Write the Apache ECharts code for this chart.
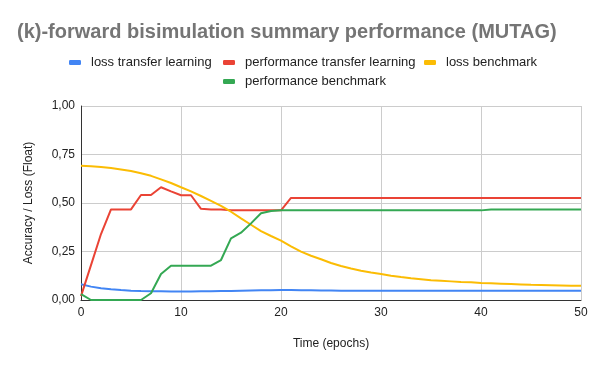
<!DOCTYPE html>
<html>
<head>
<meta charset="utf-8">
<script src="https://cdn.jsdelivr.net/npm/echarts@6/dist/echarts.min.js"></script>
<style>
  html, body { margin: 0; padding: 0; background: #fff; }
  #chart { width: 600px; height: 371px; }
</style>
</head>
<body>
<div id="chart"></div>
<script>
// epochs 0..50
const epochs = [0,1,2,3,4,5,6,7,8,9,10,11,12,13,14,15,16,17,18,19,20,21,22,23,24,25,26,27,28,29,30,31,32,33,34,35,36,37,38,39,40,41,42,43,44,45,46,47,48,49,50];

const lossTransfer = [0.081,0.069,0.060,0.055,0.051,0.048,0.046,0.045,0.045,0.044,0.044,0.044,0.045,0.045,0.046,0.047,0.048,0.049,0.050,0.050,0.051,0.051,0.050,0.050,0.049,0.049,0.048,0.048,0.048,0.048,0.048,0.048,0.048,0.048,0.048,0.048,0.048,0.048,0.048,0.048,0.048,0.048,0.048,0.048,0.048,0.048,0.048,0.048,0.048,0.048,0.048];

const perfTransfer = [0.02,0.18,0.34,0.467,0.467,0.467,0.541,0.541,0.581,0.56,0.54,0.54,0.47,0.467,0.466,0.462,0.462,0.462,0.462,0.462,0.462,0.526,0.526,0.526,0.526,0.526,0.526,0.526,0.526,0.526,0.526,0.526,0.526,0.526,0.526,0.526,0.526,0.526,0.526,0.526,0.526,0.526,0.526,0.526,0.526,0.526,0.526,0.526,0.526,0.526,0.526];

const lossBench = [0.692,0.689,0.685,0.680,0.673,0.665,0.653,0.640,0.622,0.603,0.581,0.560,0.536,0.511,0.485,0.455,0.421,0.388,0.355,0.330,0.306,0.277,0.249,0.228,0.210,0.191,0.175,0.162,0.151,0.142,0.134,0.125,0.118,0.112,0.107,0.102,0.099,0.096,0.093,0.091,0.088,0.086,0.084,0.082,0.080,0.078,0.077,0.076,0.075,0.074,0.073];

const perfBench = [0.03,0.0,0.0,0.0,0.0,0.0,0.0,0.035,0.134,0.177,0.177,0.177,0.177,0.177,0.206,0.318,0.347,0.395,0.447,0.459,0.462,0.462,0.462,0.462,0.462,0.462,0.462,0.462,0.462,0.462,0.462,0.462,0.462,0.462,0.462,0.462,0.462,0.462,0.462,0.462,0.462,0.467,0.467,0.467,0.467,0.467,0.467,0.467,0.467,0.467,0.467];

const seriesNames = ['loss transfer learning', 'performance transfer learning', 'loss benchmark', 'performance benchmark'];
const seriesColors = ['#4285F4', '#EA4335', '#FBBC04', '#34A853'];
const seriesValues = [lossTransfer, perfTransfer, lossBench, perfBench];

const font = 'Liberation Sans, Arial, sans-serif';

const chart = echarts.init(document.getElementById('chart'));

// one legend per item so the wrap matches the reference
const legendPos = [[69, 56], [223, 56], [424, 56], [223, 75]];
const legends = seriesNames.map((name, i) => ({
  data: [name],
  left: legendPos[i][0],
  top: legendPos[i][1],
  padding: 0,
  icon: 'roundRect',
  itemWidth: 12,
  itemHeight: 5,
  textStyle: { color: '#222', fontSize: 13, fontFamily: font, padding: [0, 0, 0, 5] }
}));

const option = {
  animation: false,
  color: seriesColors,
  title: {
    text: '(k)-forward bisimulation summary performance (MUTAG)',
    left: 17,
    top: 22,
    padding: 0,
    textStyle: { color: '#757575', fontSize: 20, fontWeight: 'bold', fontFamily: font }
  },
  legend: legends,
  grid: { left: 81, right: 19, top: 106, bottom: 71 },
  xAxis: {
    type: 'value',
    min: 0,
    max: 50,
    interval: 10,
    name: 'Time (epochs)',
    nameLocation: 'middle',
    nameGap: 38,
    nameTextStyle: { color: '#222', fontSize: 12, fontFamily: font },
    axisLine: { lineStyle: { color: '#333', width: 1 } },
    axisTick: { show: false },
    axisLabel: { color: '#222', fontSize: 12, fontFamily: font, margin: 7 },
    splitLine: { lineStyle: { color: '#ccc' } }
  },
  yAxis: {
    type: 'value',
    min: 0,
    max: 1,
    interval: 0.25,
    name: 'Accuracy / Loss (Float)',
    nameLocation: 'middle',
    nameGap: 46,
    nameTextStyle: { color: '#222', fontSize: 12, fontFamily: font },
    axisLine: { show: true, lineStyle: { color: '#333', width: 1 } },
    axisTick: { show: false },
    axisLabel: {
      color: '#222', fontSize: 12, fontFamily: font, margin: 6,
      formatter: v => v.toFixed(2).replace('.', ',')
    },
    splitLine: { lineStyle: { color: '#ccc' } }
  },
  series: seriesNames.map((name, i) => ({
    name: name,
    type: 'line',
    showSymbol: false,
    lineStyle: { width: 2 },
    data: epochs.map((e, j) => [e, seriesValues[i][j]])
  }))
};

chart.setOption(option);
</script>
</body>
</html>
